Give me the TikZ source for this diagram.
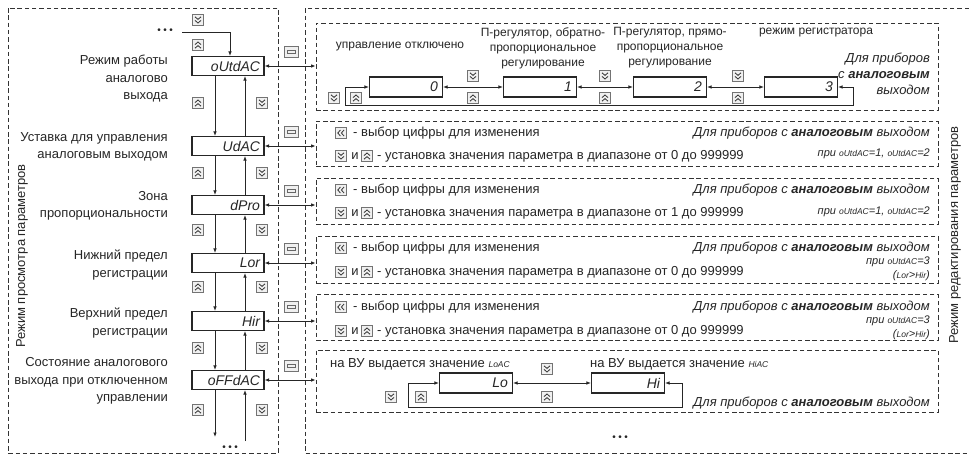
\documentclass[tikz,border=0pt]{standalone}
\usepackage{fontspec}
\setmainfont{Liberation Sans}
\usetikzlibrary{arrows.meta}
\newcommand\prm[1]{{\fontsize{8.5}{8.5}\selectfont #1}}
\newcommand\dotsrow{{\fontsize{10}{10}\selectfont •\hspace{2.5pt}•\hspace{2.5pt}•}}
\begin{document}
\begin{tikzpicture}[x=1pt,y=-1pt,
 every node/.style={text=black!85},
 panel/.style={draw=black!80,line width=0.9pt,dash pattern=on 4.5pt off 2.8pt},
 sub/.style={panel,minimum width=622pt,inner sep=0pt},
 disp/.style={draw=black!85,line width=1.1pt,minimum width=72pt,minimum height=19pt,inner sep=0pt,text width=64pt,align=right,font=\fontsize{14}{14}\selectfont\itshape},
 lbl/.style={inner sep=0pt,font=\fontsize{13}{17.5}\selectfont},
 toplbl/.style={inner sep=0pt,align=center,font=\fontsize{12}{15}\selectfont},
 note/.style={inner sep=0pt,anchor=east,font=\fontsize{13}{16}\selectfont\itshape},
 smallnote/.style={inner sep=0pt,anchor=east,font=\fontsize{11}{14}\selectfont\itshape},
 conn/.style={draw=black!85,line width=0.85pt},
 tipend/.style={-{Latex[length=4.5pt,width=3.6pt]}},
 tipboth/.style={{Latex[length=4.5pt,width=3.6pt]}-{Latex[length=4.5pt,width=3.6pt]}},
 btnbase/.style={draw=black!55,fill=black!6,line width=0.6pt,minimum width=11pt,minimum height=11pt,inner sep=0pt},
 btndn/.style={btnbase,path picture={
   \draw[black!80,line width=0.8pt] ([shift={(-3,-3.2)}]path picture bounding box.center) -- ([shift={(0,-0.6)}]path picture bounding box.center) -- ([shift={(3,-3.2)}]path picture bounding box.center);
   \draw[black!80,line width=0.8pt] ([shift={(-3,0.4)}]path picture bounding box.center) -- ([shift={(0,3)}]path picture bounding box.center) -- ([shift={(3,0.4)}]path picture bounding box.center);}},
 btnup/.style={btnbase,path picture={
   \draw[black!80,line width=0.8pt] ([shift={(-3,-0.4)}]path picture bounding box.center) -- ([shift={(0,-3)}]path picture bounding box.center) -- ([shift={(3,-0.4)}]path picture bounding box.center);
   \draw[black!80,line width=0.8pt] ([shift={(-3,3.2)}]path picture bounding box.center) -- ([shift={(0,0.6)}]path picture bounding box.center) -- ([shift={(3,3.2)}]path picture bounding box.center);}},
 btnl/.style={btnbase,path picture={
   \draw[black!80,line width=0.8pt] ([shift={(-0.6,-3)}]path picture bounding box.center) -- ([shift={(-3.2,0)}]path picture bounding box.center) -- ([shift={(-0.6,3)}]path picture bounding box.center);
   \draw[black!80,line width=0.8pt] ([shift={(3,-3)}]path picture bounding box.center) -- ([shift={(0.4,0)}]path picture bounding box.center) -- ([shift={(3,3)}]path picture bounding box.center);}},
 prog/.style={btnbase,minimum width=14pt,minimum height=11pt,path picture={
   \draw[black!60,line width=0.5pt] ([shift={(-3.8,-1.3)}]path picture bounding box.center) rectangle ([shift={(3.8,1.3)}]path picture bounding box.center);}}
]
\useasboundingbox (0,0) rectangle (969,458);
\fill[white] (0,0) rectangle (969,458);

% panels
\draw[panel] (8,8) rectangle (278,453);
\draw[panel] (969,8) -- (305,8) -- (305,453) -- (969,453);
\node[lbl,rotate=90] (vl) at (22,256) {Режим просмотра параметров};
\node[lbl,rotate=90] (vr) at (955,235) {Режим редактирования параметров};

% left column displays
\foreach \n/\y/\t in {d1/66/oUtdAC, d2/146/UdAC, d3/205/dPro, d4/263/Lor, d5/321/Hir, d6/380/oFFdAC}
  \node[disp] (\n) at (228,\y) {\t};

\foreach \a/\b in {d1/d2,d2/d3,d3/d4,d4/d5,d5/d6}{
  \draw[conn,tipend] ([xshift=-13pt]\a.south) -- ([xshift=-13pt]\b.north);
  \draw[conn,tipend] ([xshift=17pt]\b.north) -- ([xshift=17pt]\a.south);
}
\foreach \y [count=\i] in {103,173,230,287,348,410}{
  \node[btnup] (lu\i) at (198,\y) {};
  \node[btndn] (ld\i) at (262,\y) {};
}

% top entry
\node[inner sep=0pt] (dtop) at (165,31) {\dotsrow};
\coordinate (t0) at (182,32);
\draw[conn,tipend] (t0) -| ([xshift=2pt]d1.north);
\node[btndn] (tb1) at (198,20) {};
\node[btnup] (tb2) at (198,45) {};

% bottom exit
\coordinate (bdn) at (215,437);
\coordinate (bup) at (245,441);
\draw[conn,tipend] ([xshift=-13pt]d6.south) -- (bdn);
\draw[conn,tipend] (bup) -- ([xshift=17pt]d6.south);
\node[inner sep=0pt] (dbot) at (230,448) {\dotsrow};

% left labels
\node[lbl,align=right,anchor=east] (l1) at (168,79) {Режим работы\\аналогово\\выхода};
\node[lbl,align=right,anchor=east] (l2) at (168,147) {Уставка для управления\\аналоговым выходом};
\node[lbl,align=right,anchor=east] (l3) at (168,206) {Зона\\пропорциональности};
\node[lbl,align=right,anchor=east] (l4) at (168,265) {Нижний предел\\регистрации};
\node[lbl,align=right,anchor=east] (l5) at (168,323) {Верхний предел\\регистрации};
\node[lbl,align=right,anchor=east] (l6) at (168,381) {Состояние аналогового\\выхода при отключенном\\управлении};

% PROG buttons
\foreach \y [count=\i] in {52,132,191,249,307,366}
  \node[prog] (pg\i) at (291,\y) {};

% editing boxes
\node[sub,minimum height=87pt] (bA) at (627,66.5) {};
\node[sub,minimum height=45pt] (bB) at (627,143.5) {};
\node[sub,minimum height=46pt] (bC) at (627,201) {};
\node[sub,minimum height=47pt] (bD) at (627,259.5) {};
\node[sub,minimum height=46pt] (bE) at (627,317) {};
\node[sub,minimum height=62pt] (bF) at (627,381) {};

\foreach \d/\b in {d1/bA,d2/bB,d3/bC,d4/bD,d5/bE,d6/bF}
  \draw[conn,tipboth] (\d.east) -- (\d.east -| \b.west);

% box A
\node[disp,minimum width=73pt,minimum height=20pt] (a0) at (406,87) {0};
\node[disp,minimum width=73pt,minimum height=20pt] (a1) at (540,87) {1};
\node[disp,minimum width=73pt,minimum height=20pt] (a2) at (670,87) {2};
\node[disp,minimum width=73pt,minimum height=20pt] (a3) at (801,87) {3};
\draw[conn,tipboth] (a0.east) -- (a1.west);
\draw[conn,tipboth] (a1.east) -- (a2.west);
\draw[conn,tipboth] (a2.east) -- (a3.west);
\draw[conn,tipboth] (a3.east) -- (853,87) -- (853,105) -- (345,105) -- (345,87) -- (a0.west);
\node[btndn] (ab1) at (334,98) {};
\node[btnup] (ab2) at (356,98) {};
\foreach \x [count=\i] in {473,605,738}{
  \node[btndn] (am\i) at (\x,76) {};
  \node[btnup] (an\i) at (\x,98) {};
}
\node[toplbl] (ta0) at (400,47) {управление отключено};
\node[toplbl] (ta1) at (543,48) {П-регулятор, обратно-\\пропорциональное\\регулирование};
\node[toplbl] (ta2) at (670,48) {П-регулятор, прямо-\\пропорциональное\\регулирование};
\node[toplbl] (ta3) at (816,33) {режим регистратора};
\node[note,align=right] (na) at (930,74) {Для приборов\\с \textbf{аналоговым}\\выходом};

% boxes B-E
\foreach \b/\ya/\yb/\fr in {B/133/156/0, C/190/213/1, D/248/272/0, E/307/331/0}{
  \node[btnl] (sl\b) at (341,\ya) {};
  \node[lbl,anchor=west] (ta\b) at (353,\ya) {- выбор цифры для изменения};
  \node[btndn] (sd\b) at (341,\yb) {};
  \node[lbl] (ti\b) at (355,\yb) {и};
  \node[btnup] (su\b) at (367,\yb) {};
  \node[lbl,anchor=west] (tb\b) at (377,\yb) {- установка значения параметра в диапазоне от \fr\ до 999999};
}
\node[note] (nB1) at (930,133) {Для приборов с \textbf{аналоговым} выходом};
\node[smallnote] (nB2) at (930,154) {при \prm{oUtdAC}=1, \prm{oUtdAC}=2};
\node[note] (nC1) at (930,190) {Для приборов с \textbf{аналоговым} выходом};
\node[smallnote] (nC2) at (930,212) {при \prm{oUtdAC}=1, \prm{oUtdAC}=2};
\node[note] (nD1) at (930,248) {Для приборов с \textbf{аналоговым} выходом};
\node[smallnote] (nD2) at (930,262) {при \prm{oUtdAC}=3};
\node[smallnote] (nD3) at (930,276) {(\prm{Lor}>\prm{Hir})};
\node[note] (nE1) at (930,307) {Для приборов с \textbf{аналоговым} выходом};
\node[smallnote] (nE2) at (930,321) {при \prm{oUtdAC}=3};
\node[smallnote] (nE3) at (930,335) {(\prm{Lor}>\prm{Hir})};

% box F
\node[lbl,anchor=west] (fl0) at (330,364) {на ВУ выдается значение \textit{\prm{LoAC}}};
\node[lbl,anchor=west] (fl1) at (590,364) {на ВУ выдается значение \textit{\prm{HiAC}}};
\node[disp,minimum width=73pt,minimum height=20pt] (f0) at (476,383) {Lo};
\node[disp,minimum width=73pt,minimum height=20pt] (f1) at (628,383) {Hi};
\draw[conn,tipboth] (f0.east) -- (f1.west);
\draw[conn,tipboth] (f1.east) -- (682,383) -- (682,407) -- (408,407) -- (408,383) -- (f0.west);
\node[btndn] (fb1) at (547,369) {};
\node[btnup] (fb2) at (547,397) {};
\node[btndn] (fb3) at (391,397) {};
\node[btnup] (fb4) at (421,397) {};
\node[note] (nF) at (930,403) {Для приборов с \textbf{аналоговым} выходом};
\node[inner sep=0pt] (dF) at (620,438) {\dotsrow};
\end{tikzpicture}
\end{document}
